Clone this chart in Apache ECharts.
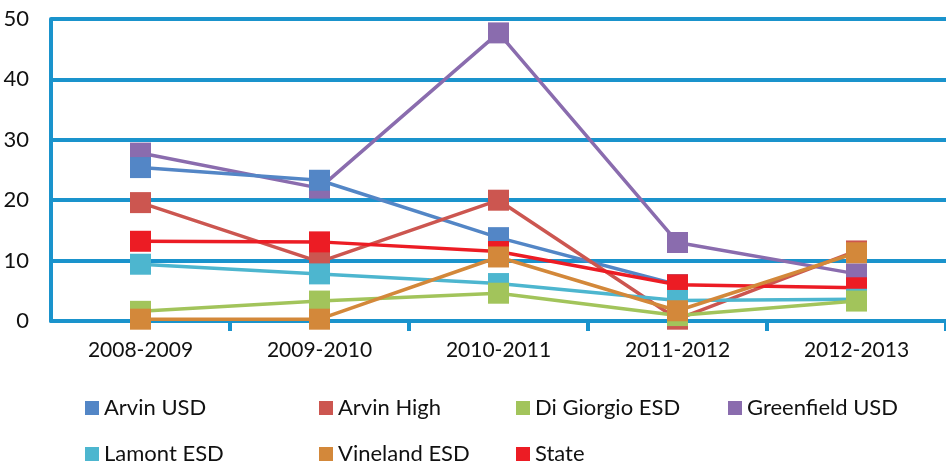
<!DOCTYPE html>
<html>
<head>
<meta charset="utf-8">
<script src="https://cdn.jsdelivr.net/npm/echarts@6/dist/echarts.min.js"></script>
<style>
  html, body { margin: 0; padding: 0; background: #fff; }
  #chart { width: 946px; height: 465px; }
</style>
</head>
<body>
<div id="chart"></div>
<script>
// data
var categories = ['2008-2009', '2009-2010', '2010-2011', '2011-2012', '2012-2013'];
var yTicks = [0, 10, 20, 30, 40, 50];
var arvinUsd   = [25.4, 23.3, 13.8, 6.0, null];
var arvinHigh  = [19.6, 9.8, 20.0, 0.3, 11.6];
var diGiorgio  = [1.6, 3.3, 4.6, 0.9, 3.3];
var greenfield = [27.8, 22.0, 47.7, 13.0, 7.8];
var lamont     = [9.4, 7.8, 6.2, 3.4, 3.6];
var vineland   = [0.3, 0.3, 10.6, 1.7, 11.3];
var stateAvg   = [13.2, 13.1, 11.5, 6.0, 5.5];

(function() {
  var axisBlue = '#1a93cc';
  var font = 'Lato';

  var chart = echarts.init(document.getElementById('chart'), null, { renderer: 'canvas' });

  // name, values, colour, stacking order (Excel-like overlap)
  var defs = [
    ['Arvin USD', arvinUsd, '#5386c6', 3],
    ['Arvin High', arvinHigh, '#cc5650', 4],
    ['Di Giorgio ESD', diGiorgio, '#a2c45b', 7],
    ['Greenfield USD', greenfield, '#8a6cae', 2],
    ['Lamont ESD', lamont, '#4db6cf', 6],
    ['Vineland ESD', vineland, '#d3883a', 8],
    ['State', stateAvg, '#ec1c24', 5]
  ];

  var series = defs.map(function(d) {
    return {
      name: d[0],
      type: 'line',
      data: d[1],
      z: d[3],
      symbol: 'rect',
      symbolSize: 21,
      showAllSymbol: true,
      color: d[2],
      lineStyle: { color: d[2], width: 3.5 },
      itemStyle: { color: d[2] },
      emphasis: { disabled: true },
      animation: false
    };
  });

  // legend laid out as a 4-column grid, one component per entry
  var legendPos = [[85, 397], [319, 397], [516, 397], [728, 397], [85, 443], [319, 443], [516, 443]];
  var legends = defs.map(function(d, i) {
    return {
      data: [d[0]],
      left: legendPos[i][0],
      top: legendPos[i][1],
      padding: 0,
      itemWidth: 14,
      itemHeight: 14,
      icon: 'rect',
      selectedMode: false,
      textStyle: { color: '#111', fontSize: 22, fontFamily: font, lineHeight: 22 }
    };
  });

  chart.setOption({
    animation: false,
    grid: { left: 51, top: 19, width: 902, height: 302 },
    legend: legends,
    xAxis: {
      type: 'category',
      data: categories,
      boundaryGap: true,
      axisLine: { lineStyle: { color: axisBlue, width: 4 } },
      axisTick: {
        show: true,
        length: 10,
        lineStyle: { color: axisBlue, width: 4 },
        interval: function(index) { return index !== 0; }
      },
      axisLabel: { color: '#111', fontSize: 21, fontFamily: font, margin: 19 }
    },
    yAxis: {
      type: 'value',
      min: yTicks[0],
      max: yTicks[yTicks.length - 1],
      interval: yTicks[1] - yTicks[0],
      axisLine: { show: true, lineStyle: { color: axisBlue, width: 4 } },
      axisTick: { show: false },
      splitLine: { lineStyle: { color: axisBlue, width: 4 } },
      axisLabel: { color: '#111', fontSize: 22, fontFamily: font, margin: 22 }
    },
    series: series
  });

  window.addEventListener('resize', function() { chart.resize(); });
})();
</script>
</body>
</html>
